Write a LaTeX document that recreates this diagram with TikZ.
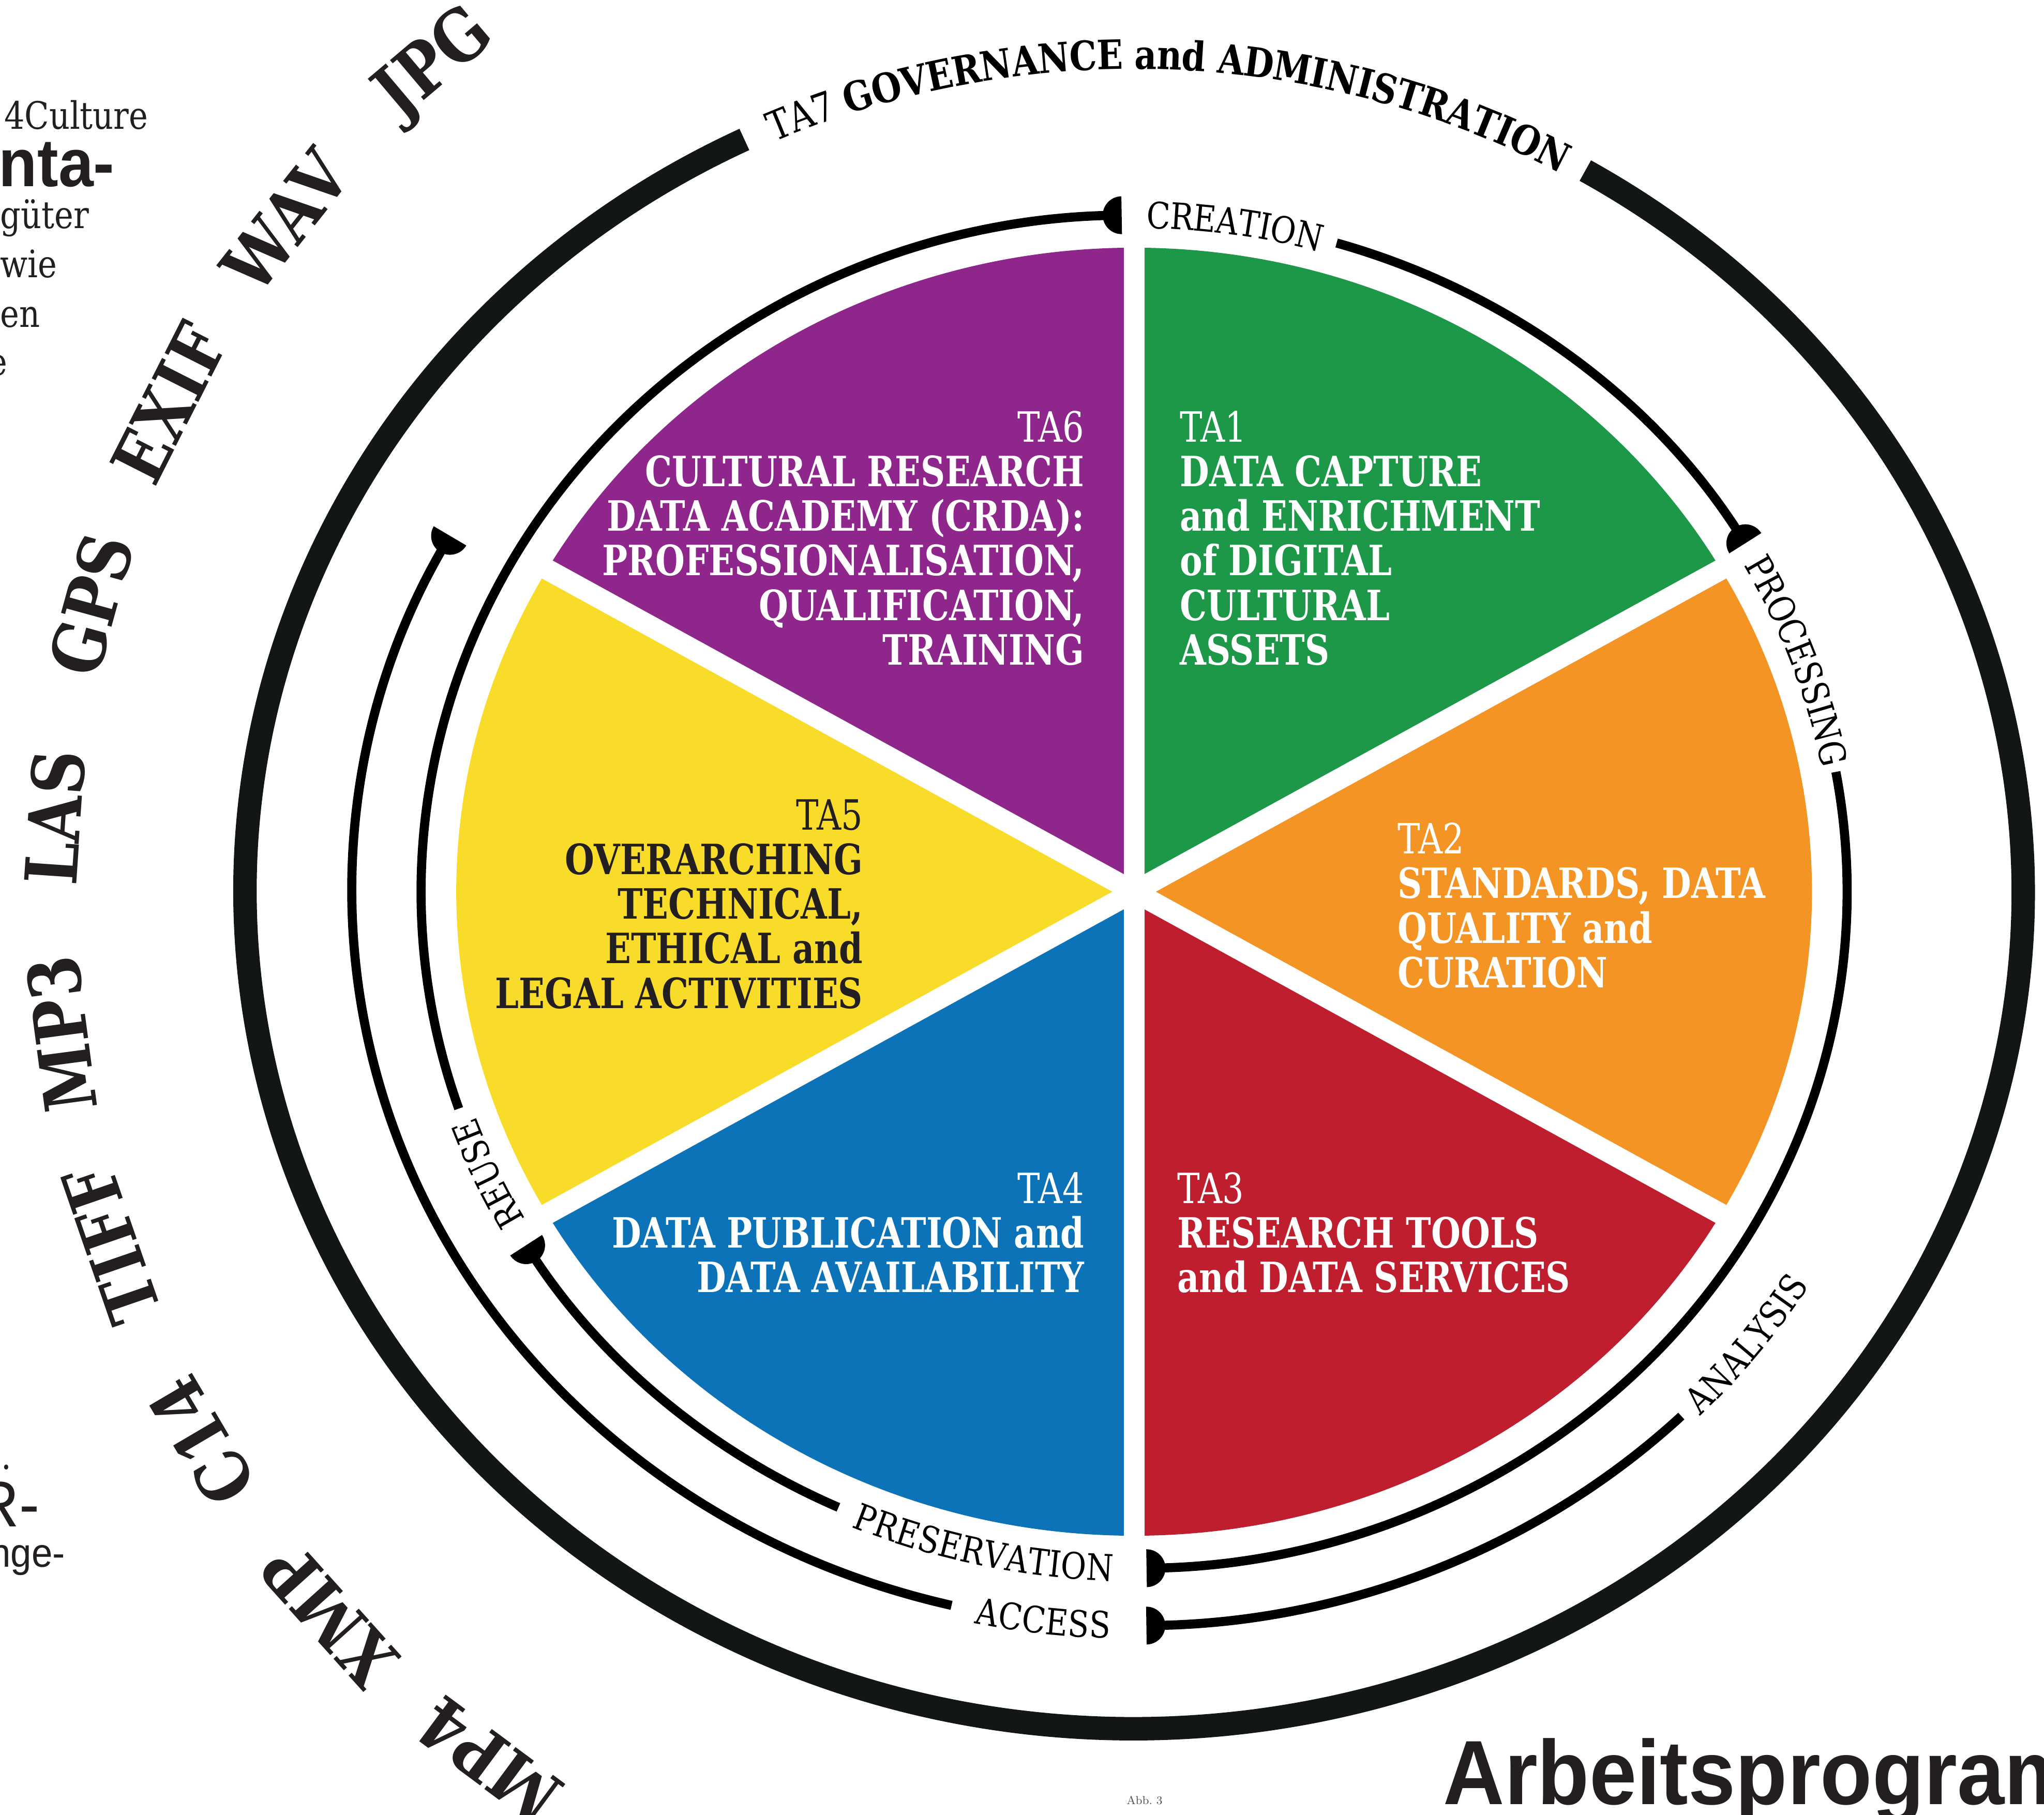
\documentclass[tikz,border=0pt]{standalone}
\usepackage{fontspec}
\usetikzlibrary{arrows.meta,decorations.text}
\newfontfamily\slab[FakeStretch=0.85]{DejaVu Serif}
\newfontfamily\slabnarrow[FakeStretch=0.81]{DejaVu Serif}
\newfontfamily\grotesk[FakeStretch=0.93]{Liberation Sans}
\newcommand{\cycfont}{\slab\fontsize{28}{28}\selectfont}
\newcommand{\tasevenfont}{\slab\fontsize{31}{31}\selectfont}
\definecolor{tagreen}{RGB}{29,151,72}
\definecolor{taorange}{RGB}{244,148,36}
\definecolor{tared}{RGB}{190,30,46}
\definecolor{tablue}{RGB}{13,115,185}
\definecolor{tayellow}{RGB}{249,220,41}
\definecolor{tapurple}{RGB}{142,38,139}
\definecolor{ringgray}{RGB}{18,22,22}
\definecolor{ink}{RGB}{35,31,32}
% flat-fronted half disc as arrow tip
\pgfdeclarearrow{
  name = HalfDisc,
  parameters = {\the\pgfarrowlength},
  setup code = {
    \pgfarrowssettipend{0pt}
    \pgfarrowssetbackend{-\pgfarrowlength}
    \pgfarrowssetlineend{-.5\pgfarrowlength}
    \pgfarrowssavethe\pgfarrowlength
  },
  drawing code = {
    \pgfpathmoveto{\pgfqpoint{0pt}{\pgfarrowlength}}
    \pgfpatharc{90}{270}{\pgfarrowlength}
    \pgfpathclose
    \pgfusepathqfill
  },
  defaults = {length = 14.5pt}
}
\tikzset{
  talabel/.style={font=\slabnarrow\bfseries\fontsize{32}{34.2}\selectfont, text=white, inner sep=0pt},
  fmtlabel/.style={font=\slab\bfseries\fontsize{55}{55}\selectfont, text=ink, inner sep=0pt},
  fragment/.style={font=\slab\fontsize{29}{29}\selectfont, text=ink, inner sep=0pt, anchor=base west},
  cycarrow/.style={line width=7pt, -{HalfDisc[length=14.5pt]}},
  cyctext/.style={decorate, decoration={text along path, text align=center, raise=-10pt, text={|\cycfont|#1}}},
}
\begin{document}
\begin{tikzpicture}[x=1pt, y=1pt]
\useasboundingbox (-870,-708) rectangle (698,684);
% wheel of the task areas
\foreach \col/\from in {tagreen/90, taorange/30, tared/-30, tablue/-90, tayellow/-150, tapurple/-210}
  \fill[\col] (0,0) -- (\from:520 and 494) arc[start angle=\from, end angle=\from-60, x radius=520, y radius=494] -- cycle;
\foreach \a in {90,30,-30,-90,-150,-210}
  \draw[white, line width=16pt] (0,0) -- (\a:530 and 504);

\node[talabel, anchor=north west, align=left] (ta1) at (35,369) {\textmd{TA1}\\DATA CAPTURE\\and ENRICHMENT\\of DIGITAL\\CULTURAL\\ASSETS};
\node[talabel, anchor=north west, align=left] (ta2) at (202,53) {\textmd{TA2}\\STANDARDS, DATA\\QUALITY and\\CURATION};
\node[talabel, anchor=north west, align=left] (ta3) at (33,-215) {\textmd{TA3}\\RESEARCH TOOLS\\and DATA SERVICES};
\node[talabel, anchor=north east, align=right] (ta4) at (-38,-215) {\textmd{TA4}\\DATA PUBLICATION and\\DATA AVAILABILITY};
\node[talabel, anchor=north east, align=right, text=ink] (ta5) at (-208,71) {\textmd{TA5}\\OVERARCHING\\TECHNICAL,\\ETHICAL and\\LEGAL ACTIVITIES};
\node[talabel, anchor=north east, align=right] (ta6) at (-38,369) {\textmd{TA6}\\CULTURAL RESEARCH\\DATA ACADEMY (CRDA):\\PROFESSIONALISATION,\\QUALIFICATION,\\TRAINING};

% data life cycle
\draw[cycarrow] (198.7:547 and 519) arc[start angle=198.7, end angle=91, x radius=547, y radius=519];
\draw[cycarrow] (73.5:547 and 519) arc[start angle=73.5, end angle=31, x radius=547, y radius=519];
\draw[cycarrow] (10.2:547 and 519) arc[start angle=10.2, end angle=-89, x radius=547, y radius=519];
\draw[cycarrow] (245.5:547 and 519) arc[start angle=245.5, end angle=211.5, x radius=547, y radius=519];
\draw[cycarrow] (-45.6:600 and 563) arc[start angle=-45.6, end angle=-89.1, x radius=600, y radius=563];
\draw[cycarrow] (256.5:600 and 563) arc[start angle=256.5, end angle=151, x radius=600, y radius=563];

\path[cyctext=CREATION] (100:547 and 519) arc[start angle=100, end angle=63.6, x radius=547, y radius=519];
\path[cyctext=PROCESSING] (42:547 and 519) arc[start angle=42, end angle=-2, x radius=547, y radius=519];
\path[cyctext=ANALYSIS] (-58:600 and 563) arc[start angle=-58, end angle=-18, x radius=600, y radius=563];
\path[cyctext=PRESERVATION] (232:547 and 519) arc[start angle=232, end angle=283.2, x radius=547, y radius=519];
\path[cyctext=ACCESS] (245:600 and 563) arc[start angle=245, end angle=281.6, x radius=600, y radius=563];
\path[cyctext=REUSE] (220:547 and 519) arc[start angle=220, end angle=189.2, x radius=547, y radius=519];

% TA7 ring
\draw[ringgray, line width=18pt] (59.5:682 and 642) arc[start angle=59.5, end angle=-244, x radius=682, y radius=642];
\path[decorate, decoration={text along path, text align=center, raise=-11pt,
  text={|\tasevenfont|TA7 |\tasevenfont\bfseries|GOVERNANCE and ADMINISTRATION}}]
  (140:682 and 642) arc[start angle=140, end angle=35, x radius=682, y radius=642];

% formats
\foreach \fmt [count=\i from 0] in {JPG,WAV,EXIF,GPS,LAS,MP3,TIFF,C14,XMP,MP4} {
  \pgfmathsetmacro{\ang}{130.2+11.47*\i}
  \node[fmtlabel, rotate=\ang-90] (fmt\i) at (\ang:830) {\fmt};
}

% neighbouring page
\node[fragment] (frag1) at (-867,585) {4Culture};
\node[fragment, font=\grotesk\bfseries\fontsize{52}{52}\selectfont] (frag2) at (-871,541) {nta-};
\node[fragment] (frag3) at (-870,509) {güter};
\node[fragment] (frag4) at (-870,471) {wie};
\node[fragment] (frag5) at (-870,433) {en};
\node[fragment] (frag6) at (-879,396) {e};
\node[fragment] (frag7) at (-869,-443) {.};
\node[fragment, font=\grotesk\fontsize{50}{50}\selectfont] (frag8) at (-889,-487) {R-};
\node[fragment, font=\grotesk\fontsize{31}{31}\selectfont] (frag9) at (-878,-518) {nge-};

\node[anchor=base west, font=\grotesk\bfseries\fontsize{70}{70}\selectfont, text=ink, inner sep=0pt] (title) at (237,-700) {Arbeitsprogramm};
\node[font=\fontsize{9}{9}\selectfont, text=black!70, inner sep=0pt] (abb) at (8,-697) {Abb.~3};
\end{tikzpicture}
\end{document}
